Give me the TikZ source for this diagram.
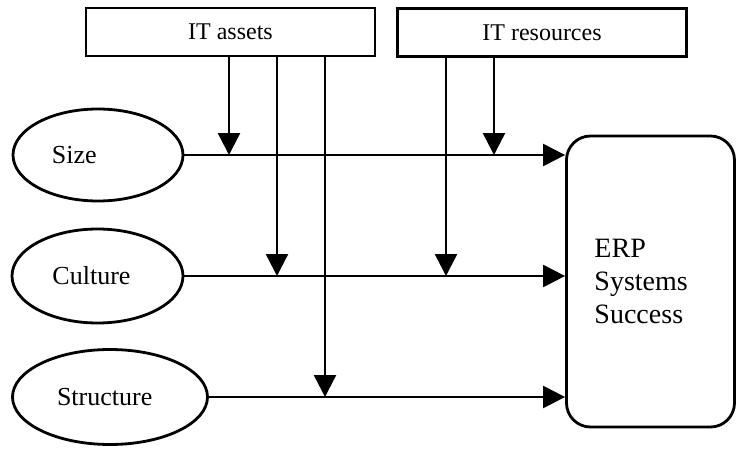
\documentclass[tikz,border=0pt]{standalone}
\usepackage{fontspec}
\setmainfont{Liberation Serif}
\usetikzlibrary{positioning, calc, shapes.geometric, arrows.meta}

\begin{document}
\begin{tikzpicture}[
    x=0.5pt, y=-0.5pt,
    >={Triangle[length=11pt, width=11pt]},
    every edge/.style={draw, line width=1.2pt},
    itbox/.style={draw, rectangle, line width=1.2pt, minimum width=144.5pt, minimum height=24pt, font=\fontsize{12}{14}\selectfont},
    factor/.style={draw, ellipse, line width=1.4pt, inner sep=0pt, align=left, font=\fontsize{13}{15}\selectfont},
    outcome/.style={draw, rounded corners=12pt, line width=1.4pt, align=left, text width=56pt, inner xsep=14pt, minimum height=145.5pt, font=\fontsize{14}{16.5}\selectfont}]

    \useasboundingbox (0,0) rectangle (736,450);

    \node at (230.5,32) [itbox] (assets) {IT assets};
    \node at (542,32.5) [itbox] (resources) {IT resources};

    \node at (98,155) [factor, minimum width=85pt, minimum height=46pt, text width=46pt] (size) {Size};
    \node at (97.5,276) [factor, minimum width=85.5pt, minimum height=47pt, text width=45pt] (culture) {Culture};
    \node at (110,397) [factor, minimum width=97.5pt, minimum height=47.5pt, text width=53pt] (structure) {Structure};

    \node at (650.5,281.5) [outcome] (erp) {ERP \\ Systems \\ Success};

    %%% Points where the moderators meet the main paths
    \coordinate (sizeA) at (229,155);
    \coordinate (sizeR) at (494,155);
    \coordinate (cultA) at (277,276);
    \coordinate (cultR) at (446,276);
    \coordinate (strA) at (325,397);

    %%% Main paths
    \path (size) edge [->] (erp.west |- size);
    \path (culture) edge [->] (erp.west |- culture);
    \path (structure) edge [->] (erp.west |- structure);

    %%% Moderating effects
    \path (assets.south -| sizeA) edge [->] (sizeA);
    \path (assets.south -| cultA) edge [->] (cultA);
    \path (assets.south -| strA) edge [->] (strA);
    \path (resources.south -| sizeR) edge [->] (sizeR);
    \path (resources.south -| cultR) edge [->] (cultR);

\end{tikzpicture}
\end{document}
